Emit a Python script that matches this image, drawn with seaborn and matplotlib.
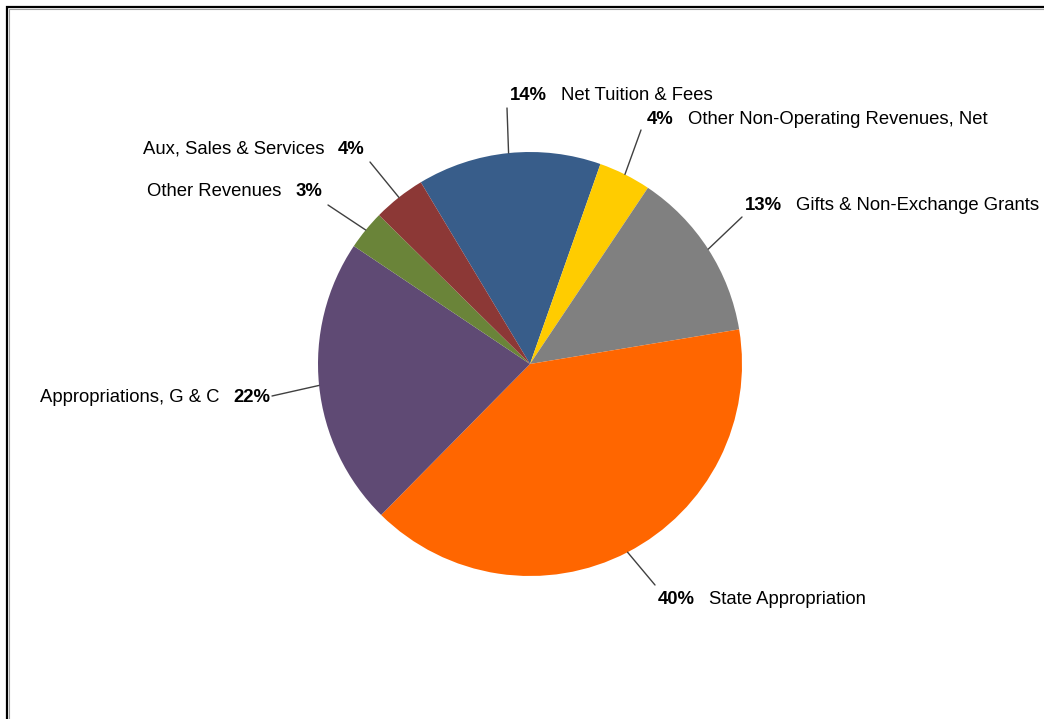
import matplotlib
matplotlib.use("Agg")
import matplotlib.pyplot as plt
from matplotlib.patches import Rectangle
import numpy as np
import seaborn as sns

# Revenue sources, listed clockwise from the top of the pie
categories = [
    "Net Tuition & Fees",
    "Other Non-Operating Revenues, Net",
    "Gifts & Non-Exchange Grants",
    "State Appropriation",
    "Appropriations, G & C",
    "Other Revenues",
    "Aux, Sales & Services",
]
shares = [14, 4, 13, 40, 22, 3, 4]
colors = ["#385D8A", "#FFCC00", "#808080", "#FF6600", "#5F4A74", "#6A8439", "#8C3836"]

# Label placement (pixel space, y downward): side, end of leader line, text anchor
label_side = ["right", "right", "right", "right", "left", "left", "left"]
leader_end = [(507, 108), (641, 130), (742, 217), (655, 585), (272, 396), (328, 205), (370, 162)]
text_anchor = [(510, 95), (647, 120), (745, 206), (658, 599), (270, 397), (322, 192), (365, 149)]

sns.set_theme(style="white")
plt.rcParams["font.family"] = ["Liberation Sans", "DejaVu Sans"]

W, H = 1044, 719
fig = plt.figure(figsize=(W / 100, H / 100), dpi=100)
ax = fig.add_axes([0, 0, 1, 1])

cx, cy, r = 530, H - 364, 212
start = 121
wedges, _ = ax.pie(
    shares,
    colors=colors,
    startangle=start,
    counterclock=False,
    radius=r,
    center=(cx, cy),
    wedgeprops=dict(linewidth=0, antialiased=True),
)
ax.set_xlim(0, W)
ax.set_ylim(0, H)
ax.set_aspect("equal")
ax.axis("off")

fs = 13.3
gap = 10
for w, name, side, end, anc, val in zip(wedges, categories, label_side, leader_end, text_anchor, shares):
    mid = np.deg2rad((w.theta1 + w.theta2) / 2)
    ex, ey = cx + r * np.cos(mid), cy + r * np.sin(mid)
    ax.plot([ex, end[0]], [ey, H - end[1]], color="#404040", lw=1.0)
    pct = f"{val}%"
    if side == "right":
        t = ax.text(anc[0], H - anc[1], pct, fontsize=fs, fontweight="bold",
                    ha="left", va="center", color="#000000")
        ax.annotate(name, xy=(1, 0.5), xycoords=t, xytext=(gap, 0),
                    textcoords="offset points", ha="left", va="center",
                    fontsize=fs, color="#000000")
    else:
        t = ax.text(anc[0], H - anc[1], pct, fontsize=fs, fontweight="bold",
                    ha="right", va="center", color="#000000")
        ax.annotate(name, xy=(0, 0.5), xycoords=t, xytext=(-gap, 0),
                    textcoords="offset points", ha="right", va="center",
                    fontsize=fs, color="#000000")

# Outer frame of the chart area (runs past the right and bottom edges)
fig.patches.append(Rectangle((7 / W, -0.05), 1.1, 1 - 7 / H + 0.05,
                             transform=fig.transFigure, fill=False,
                             edgecolor="#000000", linewidth=1.6))
fig.patches.append(Rectangle((9 / W, -0.05), 1.1, 1 - 9 / H + 0.05,
                             transform=fig.transFigure, fill=False,
                             edgecolor="#A0A0A0", linewidth=0.8))

fig.savefig("out.png", dpi=100, facecolor="white")
